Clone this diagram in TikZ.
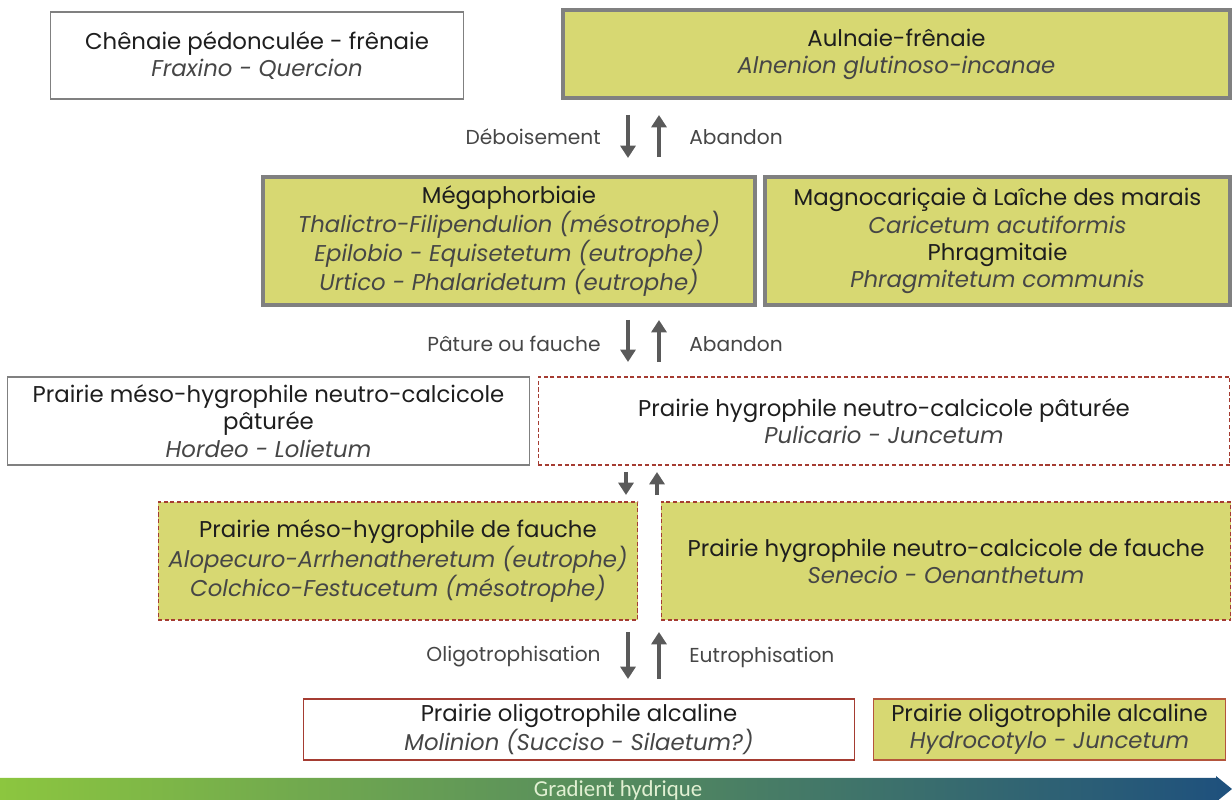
\documentclass[tikz,border=0pt]{standalone}
\usepackage{fontspec}
\setmainfont{Poppins}
\newfontfamily\barfont{Carlito}
\usetikzlibrary{arrows.meta}

\definecolor{boxfill}{RGB}{215,216,114}
\definecolor{boxgray}{RGB}{128,128,128}
\definecolor{dashred}{RGB}{165,60,50}
\definecolor{hydroborder}{RGB}{180,85,60}
\definecolor{arrowgray}{RGB}{90,90,90}
\definecolor{txtdark}{RGB}{30,30,30}
\definecolor{txtlatin}{RGB}{70,70,70}
\definecolor{gradgreen}{RGB}{140,198,63}
\definecolor{gradmid}{RGB}{95,155,85}
\definecolor{gradblue}{RGB}{30,80,125}
\definecolor{bartxt}{RGB}{225,240,210}

\tikzset{
  habitat/.style={rectangle, inner sep=0pt, outer sep=0pt, align=center,
    font=\fontsize{13}{15.5}\selectfont, text=txtdark},
  plainbox/.style={habitat, draw=boxgray, line width=0.6pt, fill=white},
  climax/.style={habitat, draw=boxgray, line width=2.2pt, fill=boxfill},
  dashbox/.style={habitat, draw=dashred, line width=0.6pt, dash pattern=on 2.3pt off 1.5pt},
  oligobox/.style={habitat, draw=dashred, line width=0.6pt},
  flow/.style={arrowgray, line width=2.3pt, -{Triangle[width=8.5pt,length=7pt]}},
  change/.style={font=\fontsize{11.5}{13}\selectfont, text=txtlatin, inner sep=0pt},
  bartext/.style={font=\barfont\fontsize{13}{15}\selectfont, text=bartxt, inner sep=0pt},
}
\newcommand{\latin}[1]{{\itshape\color{txtlatin}#1}}

\begin{document}
\begin{tikzpicture}[x=0.02cm, y=-0.02cm]
  \useasboundingbox (0,0) rectangle (1232,800);

  % forest level
  \node[plainbox, minimum width=8.28cm, minimum height=1.74cm] (chenaie) at (257,55.5)
    {Chênaie pédonculée - frênaie\\\latin{Fraxino - Quercion}};
  \node[climax, minimum width=13.34cm, minimum height=1.76cm] (aulnaie) at (896.5,54)
    {Aulnaie-frênaie\\\latin{Alnenion glutinoso-incanae}};

  % tall herbs and reeds
  \node[climax, minimum width=9.84cm, minimum height=2.56cm] (megaph) at (509,241)
    {Mégaphorbiaie\\\latin{Thalictro-Filipendulion (mésotrophe)}\\
     \latin{Epilobio - Equisetetum (eutrophe)}\\\latin{Urtico - Phalaridetum (eutrophe)}};
  \node[climax, minimum width=9.30cm, minimum height=2.56cm] (magno) at (997.5,241)
    {Magnocariçaie à Laîche des marais\\\latin{Caricetum acutiformis}\\
     Phragmitaie\\\latin{Phragmitetum communis}};

  % grazed meadows
  \node[plainbox, minimum width=10.46cm, minimum height=1.76cm] (mesopat) at (268.5,421)
    {Prairie méso-hygrophile neutro-calcicole\\pâturée\\\latin{Hordeo - Lolietum}};
  \node[dashbox, minimum width=13.84cm, minimum height=1.76cm] (hygpat) at (884,421)
    {Prairie hygrophile neutro-calcicole pâturée\\\latin{Pulicario - Juncetum}};

  % mown meadows
  \node[dashbox, fill=boxfill, minimum width=9.60cm, minimum height=2.36cm] (mesofau) at (398,561)
    {Prairie méso-hygrophile de fauche\\\latin{Alopecuro-Arrhenatheretum (eutrophe)}\\
     \latin{Colchico-Festucetum (mésotrophe)}};
  \node[dashbox, fill=boxfill, minimum width=11.40cm, minimum height=2.36cm] (hygfau) at (946,561)
    {Prairie hygrophile neutro-calcicole de fauche\\\latin{Senecio - Oenanthetum}};

  % oligotrophic meadows
  \node[oligobox, fill=white, minimum width=11.04cm, minimum height=1.22cm] (molinion) at (579,729.5)
    {Prairie oligotrophile alcaline\\\latin{Molinion (Succiso - Silaetum?)}};
  \node[oligobox, draw=hydroborder, fill=boxfill, minimum width=7.06cm, minimum height=1.22cm] (hydroco) at (1049.5,729.5)
    {Prairie oligotrophile alcaline\\\latin{Hydrocotylo - Juncetum}};

  % transitions
  \coordinate (downx) at (628,0);
  \coordinate (upx) at (659,0);
  \coordinate (smalldown) at (626,0);
  \coordinate (smallup) at (657,0);
  \draw[flow, shorten <=0.34cm, shorten >=0.38cm] (aulnaie.south -| downx) -- (megaph.north -| downx);
  \draw[flow, shorten <=0.4cm, shorten >=0.34cm] (megaph.north -| upx) -- (aulnaie.south -| upx);
  \draw[flow, shorten <=0.3cm, shorten >=0.3cm] (megaph.south -| downx) -- (hygpat.north -| downx);
  \draw[flow, shorten <=0.3cm, shorten >=0.3cm] (hygpat.north -| upx) -- (megaph.south -| upx);
  \draw[flow, shorten <=0.14cm, shorten >=0.14cm] (hygpat.south -| smalldown) -- (mesofau.north -| smalldown);
  \draw[flow, shorten <=0.14cm, shorten >=0.14cm] (hygfau.north -| smallup) -- (hygpat.south -| smallup);
  \draw[flow, shorten <=0.24cm, shorten >=0.4cm] (mesofau.south -| downx) -- (molinion.north -| downx);
  \draw[flow, shorten <=0.4cm, shorten >=0.24cm] (molinion.north -| upx) -- (mesofau.south -| upx);

  \node[change, anchor=east] (deboise) at (601,137) {Déboisement};
  \node[change, anchor=west] (abandona) at (689,137) {Abandon};
  \node[change, anchor=east] (pature) at (601,344) {Pâture ou fauche};
  \node[change, anchor=west] (abandonb) at (689,344) {Abandon};
  \node[change, anchor=east] (oligo) at (601,657) {Oligotrophisation};
  \node[change, anchor=west] (eutro) at (689,657) {Eutrophisation};

  % water gradient
  \shade[left color=gradgreen, middle color=gradmid, right color=gradblue]
    (0,778) -- (1216,778) -- (1216,776) -- (1232,789) -- (1216,802) -- (1216,800) -- (0,800) -- cycle;
  \node[bartext] (gradlabel) at (618,790) {Gradient hydrique};
\end{tikzpicture}
\end{document}
